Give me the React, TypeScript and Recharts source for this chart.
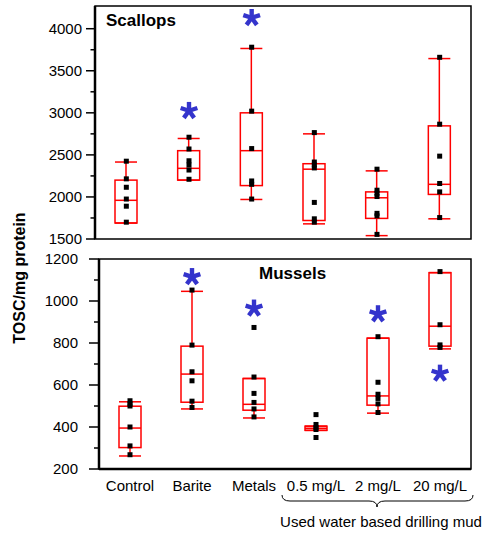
import { ComposedChart, Bar, Line, XAxis, YAxis, ReferenceArea } from 'recharts';

const categories = ['Control', 'Barite', 'Metals', '0.5 mg/L', '2 mg/L', '20 mg/L'];

// Scallops (top panel)
const scallopLow = [1690, 2200, 1970, 1680, 1540, 1740];
const scallopQ1 = [1690, 2200, 2135, 1720, 1745, 2030];
const scallopMed = [1960, 2340, 2550, 2330, 1990, 2150];
const scallopQ3 = [2200, 2550, 3000, 2395, 2060, 2845];
const scallopHigh = [2415, 2695, 3765, 2750, 2310, 3645];
const scallopPoints = [
  [2425, 2215, 2115, 1975, 1890, 1700],
  [2710, 2570, 2430, 2380, 2320, 2210],
  [3780, 3020, 2575, 2190, 2150, 1975],
  [2765, 2415, 2380, 2345, 1935, 1740, 1700],
  [2330, 2080, 2045, 2005, 1805, 1775, 1555],
  [3660, 2865, 2485, 2160, 2060, 1755],
];
const scallopStars = [null, 3025, 4130, null, null, null];
const scallopTicks = [1500, 1750, 2000, 2250, 2500, 2750, 3000, 3250, 3500, 3750, 4000];
const scallopDomain = [1500, 4270];

// Mussels (bottom panel)
const musselLow = [262, 486, 443, 384, 466, 772];
const musselQ1 = [302, 518, 480, 384, 504, 785];
const musselMed = [395, 652, 508, 394, 548, 880];
const musselQ3 = [499, 785, 631, 404, 823, 1135];
const musselHigh = [520, 1046, 631, 404, 823, 1135];
const musselPoints = [
  [525, 510, 500, 400, 310, 268],
  [1052, 790, 663, 620, 523, 493],
  [874, 638, 560, 517, 486, 448],
  [459, 412, 397, 388, 350],
  [830, 613, 556, 536, 510, 469],
  [1140, 887, 791, 779],
];
const musselStars = [null, 1115, 965, null, 938, 655];
const musselTicks = [200, 300, 400, 500, 600, 700, 800, 900, 1000, 1100, 1200];
const musselDomain = [200, 1200];

const RED = '#ff0000';
const BLUE = '#3434cc';
const FONT = '"Liberation Sans", Arial, Helvetica, sans-serif';
const POINT_KEYS = ['p0', 'p1', 'p2', 'p3', 'p4', 'p5', 'p6'];

function buildRows(low: number[], q1: number[], med: number[], q3: number[], high: number[], points: number[][], stars: (number | null)[]) {
  return categories.map((name, i) => {
    const row: Record<string, any> = {
      name, range: [low[i], high[i]],
      low: low[i], q1: q1[i], med: med[i], q3: q3[i], high: high[i],
      star: stars[i],
    };
    points[i].forEach((v, j) => { row[`p${j}`] = v; });
    return row;
  });
}

const scallopRows = buildRows(scallopLow, scallopQ1, scallopMed, scallopQ3, scallopHigh, scallopPoints, scallopStars);
const musselRows = buildRows(musselLow, musselQ1, musselMed, musselQ3, musselHigh, musselPoints, musselStars);

// box + whiskers, positions taken from the bar the library laid out for [low, high]
const BoxShape = (props: any) => {
  const { x, y, width, height, payload } = props;
  if (!payload) return null;
  const top = Math.min(y, y + height);
  const bottom = Math.max(y, y + height);
  const { low, q1, med, q3, high } = payload;
  const k = high === low ? 0 : (bottom - top) / (high - low);
  const toY = (v: number) => bottom - (v - low) * k;
  const cx = x + width / 2;
  return (
    <g stroke={RED} strokeWidth={1.5} fill="none">
      <line x1={cx} x2={cx} y1={toY(high)} y2={toY(q3)} />
      <line x1={cx} x2={cx} y1={toY(q1)} y2={toY(low)} />
      <line x1={x} x2={x + width} y1={toY(high)} y2={toY(high)} />
      <line x1={x} x2={x + width} y1={toY(low)} y2={toY(low)} />
      <rect x={x} y={toY(q3)} width={width} height={Math.max(toY(q1) - toY(q3), 0)} />
      <line x1={x} x2={x + width} y1={toY(med)} y2={toY(med)} />
    </g>
  );
};

const SquareDot = (props: any) => {
  const { cx, cy, key } = props;
  if (cx == null || cy == null || Number.isNaN(cy)) return <g key={key} />;
  return <rect key={key} x={cx - 2.5} y={cy - 2.5} width={5} height={5} fill="#000" />;
};

// five-armed asterisk used for the significance marks
const StarDot = (props: any) => {
  const { cx, cy, key } = props;
  if (cx == null || cy == null || Number.isNaN(cy)) return <g key={key} />;
  const r = 8.8;
  const arms = [-90, -18, 54, 126, 198].map(a => (a * Math.PI) / 180);
  return (
    <g key={key} stroke={BLUE} strokeWidth={4.4}>
      {arms.map((a, i) => (
        <line key={i} x1={cx} y1={cy} x2={cx + r * Math.cos(a)} y2={cy + r * Math.sin(a)} />
      ))}
    </g>
  );
};

const makeYTick = (majorStep: number, tickLen: number, labelGap: number) => (props: any) => {
  const { x, y, payload } = props;
  const v = payload.value;
  const major = v % majorStep === 0;
  return (
    <g>
      <line x1={x - (major ? tickLen : tickLen / 2)} x2={x} y1={y} y2={y} stroke="#000" strokeWidth={1.5} />
      {major && (
        <text x={x - labelGap} y={y} dy="0.35em" textAnchor="end" fontSize={15} fill="#000" fontFamily={FONT}>
          {v}
        </text>
      )}
    </g>
  );
};

export default function App() {
  return (
    <div style={{ position: 'absolute', left: 0, top: 0, width: 486, height: 534, background: '#fff', fontFamily: FONT }}>
      <div style={{ position: 'absolute', left: 0, top: 0 }}>
        <ComposedChart width={486} height={250} data={scallopRows} margin={{ top: 6, right: 15, left: 0, bottom: 11 }}>
          <XAxis dataKey="name" height={0} tick={false} tickLine={false} axisLine={{ stroke: '#000', strokeWidth: 2.5 }} />
          <YAxis
            width={95}
            domain={scallopDomain}
            ticks={scallopTicks}
            interval={0}
            allowDataOverflow
            tickSize={0}
            tickMargin={0}
            tickLine={false}
            axisLine={{ stroke: '#000', strokeWidth: 2.5 }}
            tick={makeYTick(500, 9, 13)}
          />
          <ReferenceArea y1={scallopDomain[0]} y2={scallopDomain[1]} fill="none" stroke="#000" strokeWidth={1.5} ifOverflow="visible" />
          <Bar dataKey="range" barSize={22} shape={<BoxShape />} isAnimationActive={false} />
          {POINT_KEYS.map(k => (
            <Line key={k} dataKey={k} stroke="none" dot={SquareDot} activeDot={false} isAnimationActive={false} />
          ))}
          <Line dataKey="star" stroke="none" dot={StarDot} activeDot={false} isAnimationActive={false} />
        </ComposedChart>
      </div>

      <div style={{ position: 'absolute', left: 0, top: 250 }}>
        <ComposedChart width={486} height={284} data={musselRows} margin={{ top: 9, right: 15, left: 0, bottom: 35 }}>
          <XAxis
            dataKey="name"
            height={30}
            interval={0}
            tickSize={0}
            tickMargin={11}
            tickLine={false}
            axisLine={{ stroke: '#000', strokeWidth: 2.5 }}
            tick={{ fontSize: 15, fill: '#000', fontFamily: FONT }}
          />
          <YAxis
            width={99}
            domain={musselDomain}
            ticks={musselTicks}
            interval={0}
            allowDataOverflow
            tickSize={0}
            tickMargin={0}
            tickLine={false}
            axisLine={{ stroke: '#000', strokeWidth: 2.5 }}
            tick={makeYTick(200, 10, 21)}
          />
          <ReferenceArea y1={musselDomain[0]} y2={musselDomain[1]} fill="none" stroke="#000" strokeWidth={1.5} ifOverflow="visible" />
          <Bar dataKey="range" barSize={22} shape={<BoxShape />} isAnimationActive={false} />
          {POINT_KEYS.map(k => (
            <Line key={k} dataKey={k} stroke="none" dot={SquareDot} activeDot={false} isAnimationActive={false} />
          ))}
          <Line dataKey="star" stroke="none" dot={StarDot} activeDot={false} isAnimationActive={false} />
        </ComposedChart>
      </div>

      {/* titles, axis title and the brace under the drilling-mud groups */}
      <svg width={486} height={534} style={{ position: 'absolute', left: 0, top: 0, pointerEvents: 'none' }} fontFamily={FONT}>
        <text x={106} y={26} fontSize={17} fontWeight="bold" fill="#000">Scallops</text>
        <text x={259} y={279} fontSize={17} fontWeight="bold" fill="#000">Mussels</text>
        <text transform="translate(25,278) rotate(-90)" textAnchor="middle" fontSize={16} fontWeight="bold" fill="#000">
          TOSC/mg protein
        </text>
        <path
          d="M282,495 Q282,501 290,501 L369,501 Q377,501 377,507 Q377,501 385,501 L465,501 Q473,501 473,495"
          fill="none"
          stroke="#000"
          strokeWidth={1}
        />
        <text x={381} y={527} textAnchor="middle" fontSize={15} fill="#000">Used water based drilling mud</text>
      </svg>
    </div>
  );
}
